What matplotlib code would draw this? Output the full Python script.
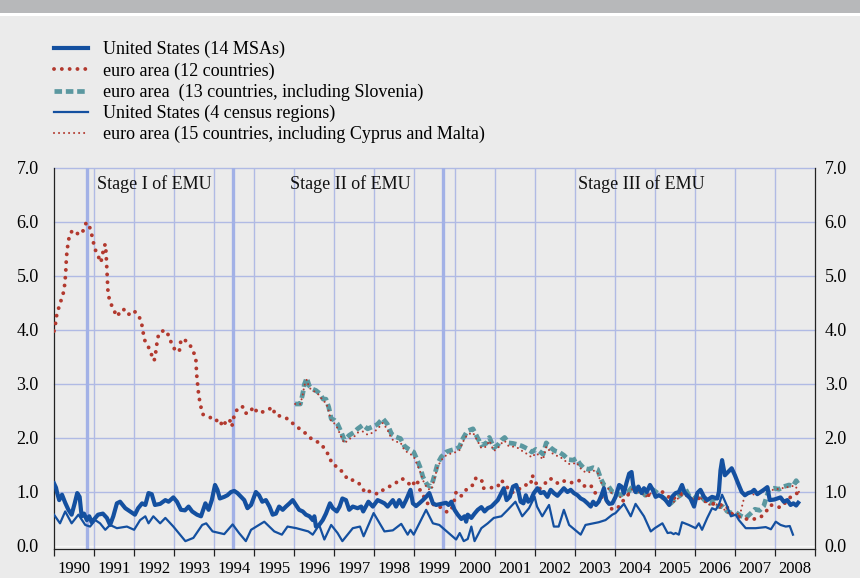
import matplotlib
matplotlib.use("Agg")
import matplotlib.pyplot as plt
from matplotlib.patches import Rectangle

plt.rcParams['font.family'] = ['Liberation Serif', 'DejaVu Serif']

# --- data ----------------------------------------------------------------
us14 = [(1990.00,1.16),(1990.05,1.08),(1990.08,0.98),(1990.13,0.85),(1990.20,0.95),(1990.28,0.80),(1990.36,0.67),
        (1990.44,0.58),(1990.52,0.80),(1990.58,0.98),(1990.64,0.91),(1990.69,0.55),(1990.75,0.60),(1990.82,0.48),
        (1990.88,0.55),(1990.94,0.44),(1991.03,0.52),(1991.10,0.58),(1991.22,0.60),(1991.32,0.52),(1991.40,0.39),
        (1991.48,0.55),(1991.57,0.79),(1991.65,0.82),(1991.78,0.70),(1991.90,0.64),(1992.02,0.58),(1992.10,0.70),
        (1992.20,0.79),(1992.28,0.76),(1992.36,0.98),(1992.44,0.96),(1992.52,0.76),(1992.65,0.78),(1992.78,0.85),
        (1992.86,0.82),(1992.98,0.90),(1993.07,0.82),(1993.17,0.67),(1993.27,0.66),(1993.36,0.73),(1993.45,0.64),
        (1993.57,0.58),(1993.67,0.55),(1993.78,0.79),(1993.82,0.73),(1993.86,0.67),(1993.94,0.85),(1994.02,1.13),
        (1994.08,1.04),(1994.14,0.88),(1994.25,0.91),(1994.33,0.94),(1994.42,1.00),(1994.50,1.02),(1994.58,0.98),
        (1994.67,0.91),(1994.75,0.85),(1994.83,0.70),(1994.92,0.76),(1995.04,1.00),(1995.12,0.94),(1995.20,0.82),
        (1995.29,0.85),(1995.38,0.73),(1995.46,0.58),(1995.54,0.60),(1995.62,0.73),(1995.71,0.67),(1995.79,0.73),
        (1995.88,0.79),(1995.96,0.85),(1996.04,0.76),(1996.12,0.67),(1996.21,0.64),(1996.29,0.58),(1996.38,0.55),
        (1996.46,0.48),(1996.50,0.55),(1996.54,0.36),(1996.62,0.39),(1996.71,0.48),(1996.79,0.60),(1996.89,0.79),
        (1996.96,0.70),(1997.06,0.64),(1997.13,0.73),(1997.20,0.88),(1997.29,0.85),(1997.37,0.67),(1997.46,0.73),
        (1997.58,0.70),(1997.67,0.73),(1997.72,0.64),(1997.85,0.82),(1997.96,0.73),(1998.08,0.85),(1998.17,0.82),
        (1998.25,0.79),(1998.33,0.73),(1998.46,0.85),(1998.54,0.73),(1998.62,0.85),(1998.71,0.73),(1998.79,0.85),
        (1998.90,1.04),(1998.96,0.79),(1999.04,0.74),(1999.12,0.79),(1999.21,0.85),(1999.29,0.91),(1999.37,0.98),
        (1999.46,0.79),(1999.54,0.76),(1999.67,0.78),(1999.79,0.80),(1999.85,0.76),(1999.92,0.82),(2000.00,0.67),
        (2000.08,0.58),(2000.17,0.50),(2000.25,0.55),(2000.29,0.45),(2000.33,0.58),(2000.42,0.52),(2000.50,0.60),
        (2000.58,0.67),(2000.67,0.72),(2000.75,0.64),(2000.83,0.70),(2000.92,0.73),(2001.00,0.79),(2001.08,0.85),
        (2001.17,0.98),(2001.23,1.07),(2001.30,0.85),(2001.38,0.91),(2001.46,1.10),(2001.54,1.13),(2001.60,1.00),
        (2001.65,0.82),(2001.72,0.79),(2001.78,0.94),(2001.84,0.82),(2001.90,0.85),(2001.98,0.98),(2002.07,1.07),
        (2002.15,0.98),(2002.23,1.00),(2002.32,0.91),(2002.40,1.04),(2002.48,0.98),(2002.57,0.93),(2002.65,1.00),
        (2002.73,1.07),(2002.82,1.00),(2002.90,1.04),(2002.98,0.98),(2003.07,0.94),(2003.15,0.88),(2003.23,0.85),
        (2003.32,0.79),(2003.40,0.73),(2003.46,0.82),(2003.53,0.76),(2003.60,0.82),(2003.67,0.94),(2003.73,1.07),
        (2003.79,0.85),(2003.86,0.78),(2003.94,0.79),(2004.02,0.91),(2004.11,1.13),(2004.17,1.10),(2004.23,0.98),
        (2004.29,1.16),(2004.36,1.34),(2004.42,1.37),(2004.46,1.13),(2004.52,1.00),(2004.59,1.10),(2004.67,0.98),
        (2004.73,1.07),(2004.80,1.00),(2004.88,1.13),(2004.95,1.04),(2005.02,0.91),(2005.10,0.94),(2005.19,0.91),
        (2005.27,0.85),(2005.36,0.76),(2005.43,0.91),(2005.52,0.98),(2005.60,1.00),(2005.68,1.13),(2005.74,1.00),
        (2005.81,0.94),(2005.89,0.88),(2005.98,0.73),(2006.06,0.98),(2006.14,1.04),(2006.23,0.91),(2006.31,0.85),
        (2006.43,0.91),(2006.56,0.88),(2006.60,1.00),(2006.64,1.40),(2006.68,1.59),(2006.75,1.31),(2006.83,1.37),
        (2006.92,1.44),(2007.00,1.31),(2007.08,1.16),(2007.17,1.00),(2007.25,0.94),(2007.33,0.98),(2007.42,1.00),
        (2007.48,1.04),(2007.56,0.96),(2007.64,1.00),(2007.72,1.04),(2007.81,1.09),(2007.87,0.85),(2007.98,0.86),
        (2008.06,0.88),(2008.14,0.90),(2008.22,0.82),(2008.31,0.85),(2008.39,0.76),(2008.46,0.79),(2008.53,0.75),
        (2008.58,0.80)]

us4 = [(1990.00,0.58),(1990.15,0.42),(1990.28,0.64),(1990.44,0.42),(1990.61,0.58),(1990.78,0.39),(1990.90,0.36),
       (1991.03,0.48),(1991.15,0.42),(1991.28,0.30),(1991.40,0.39),(1991.57,0.33),(1991.82,0.36),(1992.00,0.30),
       (1992.15,0.48),(1992.28,0.55),(1992.36,0.42),(1992.48,0.55),(1992.65,0.42),(1992.78,0.52),(1992.98,0.36),
       (1993.28,0.09),(1993.48,0.15),(1993.70,0.39),(1993.80,0.42),(1993.96,0.27),(1994.25,0.22),(1994.46,0.40),
       (1994.62,0.24),(1994.79,0.09),(1994.92,0.30),(1995.25,0.45),(1995.50,0.27),(1995.69,0.21),(1995.83,0.36),
       (1996.05,0.33),(1996.20,0.30),(1996.35,0.27),(1996.46,0.21),(1996.62,0.39),(1996.75,0.12),(1996.92,0.39),
       (1997.08,0.24),(1997.20,0.09),(1997.46,0.33),(1997.64,0.36),(1997.73,0.18),(1997.98,0.61),(1998.25,0.27),
       (1998.46,0.29),(1998.67,0.41),(1998.83,0.21),(1998.90,0.30),(1998.98,0.21),(1999.29,0.67),(1999.46,0.42),
       (1999.62,0.39),(2000.04,0.12),(2000.13,0.24),(2000.23,0.09),(2000.33,0.13),(2000.42,0.36),(2000.50,0.09),
       (2000.67,0.33),(2000.83,0.42),(2000.98,0.52),(2001.17,0.55),(2001.33,0.67),(2001.52,0.82),(2001.69,0.55),
       (2001.86,0.70),(2002.00,0.91),(2002.06,0.73),(2002.19,0.55),(2002.36,0.76),(2002.48,0.36),(2002.60,0.36),
       (2002.73,0.67),(2002.86,0.39),(2003.15,0.21),(2003.27,0.39),(2003.60,0.44),(2003.77,0.48),(2003.94,0.58),
       (2004.02,0.61),(2004.23,0.78),(2004.40,0.55),(2004.52,0.78),(2004.73,0.55),(2004.90,0.27),(2005.00,0.33),
       (2005.19,0.42),(2005.32,0.24),(2005.40,0.25),(2005.47,0.22),(2005.52,0.24),(2005.60,0.21),(2005.68,0.44),
       (2005.85,0.39),(2006.02,0.33),(2006.10,0.42),(2006.18,0.30),(2006.31,0.52),(2006.43,0.70),(2006.52,0.67),
       (2006.60,0.76),(2006.68,0.95),(2006.81,0.73),(2006.90,0.55),(2007.02,0.58),(2007.10,0.48),(2007.27,0.33),
       (2007.52,0.33),(2007.77,0.35),(2007.90,0.31),(2008.02,0.45),(2008.14,0.39),(2008.27,0.36),(2008.37,0.37),
       (2008.45,0.21)]

ea12 = [(1990.00,3.98),(1990.04,4.13),(1990.07,4.29),(1990.13,4.44),(1990.19,4.58),(1990.25,4.73),(1990.27,4.87),
        (1990.29,5.03),(1990.30,5.18),(1990.31,5.34),(1990.33,5.49),(1990.36,5.65),(1990.40,5.79),(1990.48,5.85),
        (1990.63,5.76),(1990.73,5.84),(1990.80,5.98),(1990.86,5.98),(1990.92,5.83),(1990.97,5.68),(1991.01,5.52),
        (1991.09,5.39),(1991.17,5.25),(1991.21,5.40),(1991.25,5.54),(1991.28,5.59),(1991.30,5.43),(1991.31,5.28),
        (1991.32,5.13),(1991.33,4.97),(1991.34,4.82),(1991.35,4.67),(1991.40,4.52),(1991.48,4.39),(1991.57,4.25),
        (1991.65,4.33),(1991.73,4.39),(1991.85,4.28),(1991.98,4.36),(1992.10,4.29),(1992.18,4.15),(1992.22,3.99),
        (1992.25,3.83),(1992.35,3.70),(1992.42,3.57),(1992.50,3.43),(1992.53,3.54),(1992.56,3.69),(1992.58,3.83),
        (1992.63,3.95),(1992.77,4.00),(1992.88,3.88),(1992.94,3.73),(1993.05,3.60),(1993.13,3.61),(1993.16,3.77),
        (1993.20,3.84),(1993.36,3.77),(1993.46,3.63),(1993.54,3.49),(1993.55,3.34),(1993.56,3.19),(1993.58,3.03),
        (1993.60,2.88),(1993.63,2.72),(1993.67,2.57),(1993.71,2.44),(1993.90,2.38),(1994.02,2.31),(1994.13,2.35),
        (1994.21,2.21),(1994.29,2.30),(1994.38,2.35),(1994.44,2.21),(1994.48,2.36),(1994.53,2.49),(1994.64,2.57),
        (1994.70,2.59),(1994.77,2.46),(1994.88,2.46),(1994.98,2.58),(1995.08,2.47),(1995.16,2.47),(1995.31,2.51),
        (1995.46,2.57),(1995.52,2.43),(1995.68,2.40),(1995.85,2.35),(1995.99,2.25),(1996.15,2.16),(1996.31,2.07),
        (1996.46,1.96),(1996.64,1.91),(1996.77,1.79),(1996.88,1.65),(1996.94,1.52),(1997.11,1.45),(1997.23,1.34),
        (1997.35,1.22),(1997.48,1.22),(1997.60,1.17),(1997.68,1.10),(1997.77,0.98),(1997.90,1.02),(1998.08,0.96),
        (1998.22,1.04),(1998.37,1.10),(1998.52,1.16),(1998.68,1.25),(1998.79,1.21),(1998.93,1.10),(1999.04,1.23),
        (1999.10,1.15),(1999.15,1.00),(1999.27,0.88),(1999.36,0.74),(1999.52,0.78),(1999.68,0.70),(1999.83,0.62),
        (1999.96,0.73),(2000.04,1.00),(2000.11,0.93),(2000.18,0.93),(2000.32,1.07),(2000.46,1.13),(2000.54,1.27),
        (2000.71,1.19),(2000.73,1.07),(2000.92,1.08),(2001.07,1.09),(2001.17,1.22),(2001.42,0.99),(2001.57,1.02),
        (2001.69,1.11),(2001.78,1.13),(2001.90,1.13),(2001.94,1.31),(2002.03,1.17),(2002.11,1.05),(2002.23,1.13),
        (2002.36,1.25),(2002.48,1.23),(2002.59,1.15),(2002.76,1.21),(2002.94,1.17),(2003.11,1.21),(2003.23,1.11),
        (2003.40,1.13),(2003.48,1.00),(2003.63,0.93),(2003.79,0.85),(2003.93,0.68),(2004.07,0.70),(2004.19,0.82),
        (2004.32,0.94),(2004.44,1.02),(2004.61,1.04),(2004.78,0.98),(2004.90,0.91),(2005.02,0.93),(2005.19,1.00),
        (2005.32,0.93),(2005.42,0.85),(2005.56,0.93),(2005.73,1.00),(2005.89,0.85),(2006.03,0.91),(2006.18,0.85),
        (2006.31,0.82),(2006.45,0.78),(2006.60,0.76),(2006.77,0.76),(2006.89,0.61),(2007.06,0.55),(2007.27,0.50),
        (2007.48,0.50),(2007.64,0.53),(2007.78,0.64),(2007.89,0.76),(2008.02,0.74),(2008.14,0.71),(2008.28,0.82),
        (2008.42,0.93),(2008.56,0.98)]

ea13 = [(1996.02,2.63),(1996.15,2.63),(1996.21,2.82),(1996.25,2.99),(1996.31,3.11),(1996.37,2.97),(1996.44,2.91),
        (1996.54,2.88),(1996.64,2.82),(1996.72,2.72),(1996.79,2.72),(1996.86,2.57),(1996.92,2.36),(1997.00,2.33),
        (1997.08,2.26),(1997.17,2.11),(1997.25,1.96),(1997.37,2.05),(1997.50,2.11),(1997.58,2.17),(1997.71,2.24),
        (1997.83,2.17),(1997.96,2.21),(1998.07,2.25),(1998.21,2.36),(1998.32,2.26),(1998.43,2.07),(1998.54,2.02),
        (1998.65,1.99),(1998.75,1.85),(1998.86,1.79),(1998.98,1.74),(1999.07,1.59),(1999.15,1.44),(1999.21,1.28),
        (1999.32,1.13),(1999.42,1.10),(1999.50,1.31),(1999.58,1.53),(1999.67,1.65),(1999.79,1.74),(1999.90,1.77),
        (2000.04,1.80),(2000.12,1.83),(2000.21,1.99),(2000.32,2.13),(2000.46,2.17),(2000.57,2.01),(2000.67,1.87),
        (2000.79,1.90),(2000.87,2.01),(2000.98,1.82),(2001.08,1.87),(2001.17,1.96),(2001.25,2.01),(2001.35,1.91),
        (2001.46,1.90),(2001.57,1.88),(2001.69,1.85),(2001.82,1.80),(2001.93,1.74),(2002.03,1.79),(2002.11,1.76),
        (2002.21,1.70),(2002.29,1.91),(2002.40,1.82),(2002.51,1.76),(2002.61,1.74),(2002.73,1.68),(2002.84,1.60),
        (2002.96,1.59),(2003.04,1.62),(2003.13,1.52),(2003.23,1.44),(2003.34,1.42),(2003.46,1.45),(2003.57,1.42),
        (2003.65,1.25),(2003.73,1.13),(2003.84,1.11),(2003.94,1.00),(2004.02,0.99),(2004.15,0.94),(2004.23,0.98),
        (2004.34,1.00),(2004.44,1.10),(2004.54,1.00),(2004.65,1.04),(2004.76,0.94),(2004.86,0.98),(2004.96,1.04),
        (2005.07,0.98),(2005.18,0.91),(2005.29,0.85),(2005.40,0.79),(2005.52,0.88),(2005.64,0.94),(2005.77,1.05),
        (2005.87,0.91),(2005.98,0.87),(2006.08,0.96),(2006.18,0.90),(2006.28,0.82),(2006.39,0.79),(2006.50,0.85),
        (2006.60,0.73),(2006.70,0.73),(2006.81,0.64),(2006.92,0.61),(2007.03,0.62),(2007.14,0.56),(2007.27,0.52),
        (2007.39,0.60),(2007.50,0.68),(2007.62,0.66),(2007.72,0.74),(2007.85,1.05),(2007.98,1.07),(2008.10,1.05),
        (2008.22,1.10),(2008.35,1.13),(2008.45,1.11),(2008.53,1.21),(2008.60,1.13)]

ea15 = [(1996.02,2.63),(1996.15,2.63),(1996.21,2.80),(1996.25,2.97),(1996.31,3.08),(1996.37,2.94),(1996.44,2.88),
        (1996.54,2.85),(1996.64,2.78),(1996.72,2.68),(1996.79,2.66),(1996.86,2.50),(1996.92,2.30),(1997.00,2.27),
        (1997.08,2.18),(1997.17,2.02),(1997.25,1.90),(1997.37,1.98),(1997.50,2.03),(1997.58,2.10),(1997.71,2.12),
        (1997.83,2.06),(1997.96,2.10),(1998.07,2.16),(1998.21,2.28),(1998.32,2.16),(1998.43,1.98),(1998.54,1.93),
        (1998.65,1.92),(1998.75,1.77),(1998.86,1.72),(1998.98,1.66),(1999.07,1.50),(1999.15,1.36),(1999.21,1.22),
        (1999.32,1.06),(1999.42,1.04),(1999.50,1.25),(1999.58,1.47),(1999.67,1.59),(1999.79,1.68),(1999.90,1.71),
        (2000.04,1.74),(2000.12,1.77),(2000.21,1.93),(2000.32,2.06),(2000.46,2.10),(2000.57,1.95),(2000.67,1.81),
        (2000.79,1.84),(2000.87,1.95),(2000.98,1.76),(2001.08,1.81),(2001.17,1.90),(2001.25,1.95),(2001.35,1.85),
        (2001.46,1.84),(2001.57,1.82),(2001.69,1.76),(2001.82,1.70),(2001.93,1.64),(2002.03,1.72),(2002.11,1.68),
        (2002.21,1.60),(2002.29,1.84),(2002.40,1.74),(2002.51,1.68),(2002.61,1.66),(2002.73,1.60),(2002.84,1.52),
        (2002.96,1.52),(2003.04,1.55),(2003.13,1.45),(2003.23,1.38),(2003.34,1.36),(2003.46,1.40),(2003.57,1.36),
        (2003.65,1.19),(2003.73,1.08),(2003.84,1.06),(2003.94,0.96),(2004.02,0.94),(2004.15,0.90),(2004.23,0.95),
        (2004.34,0.97),(2004.44,1.06),(2004.54,0.97),(2004.65,1.01),(2004.76,0.91),(2004.86,0.95),(2004.96,1.01),
        (2005.07,0.95),(2005.18,0.88),(2005.29,0.82),(2005.40,0.76),(2005.52,0.85),(2005.64,0.91),(2005.77,1.02),
        (2005.87,0.88),(2005.98,0.84),(2006.08,0.93),(2006.18,0.87),(2006.28,0.79),(2006.39,0.76),(2006.50,0.82),
        (2006.60,0.71),(2006.70,0.70),(2006.81,0.62),(2006.92,0.60),(2007.03,0.58),(2007.14,0.62),(2007.20,0.80),
        (2007.25,0.95),(2007.35,0.97),(2007.50,0.95),(2007.65,1.00),(2007.80,1.02),(2007.95,1.04),(2008.10,1.06),
        (2008.25,1.08),(2008.38,1.10),(2008.50,1.12),(2008.56,1.05),(2008.60,1.00)]

years = list(range(1990, 2009))
year_labels = [str(y) for y in years]
y_ticks = [0, 1, 2, 3, 4, 5, 6, 7]
stages = [(1990.82, 1991.07, "Stage I of EMU"),
          (1994.48, 1995.89, "Stage II of EMU"),
          (1999.72, 2003.08, "Stage III of EMU")]

labels = ["United States (14 MSAs)",
          "euro area (12 countries)",
          "euro area  (13 countries, including Slovenia)",
          "United States (4 census regions)",
          "euro area (15 countries, including Cyprus and Malta)"]

# --- styling ---
BG = "#ebebeb"
GRID = "#b0bae4"
STAGE = "#a2b1e6"
BLUE = "#1450a0"
RED = "#b2392e"
TEAL = "#5b98a0"

W, H = 860, 578
fig = plt.figure(figsize=(W / 100, H / 100), dpi=100, facecolor=BG)
fig.patches.append(Rectangle((0, 1 - 13 / H), 1, 13 / H, transform=fig.transFigure,
                             facecolor="#b7b8ba", edgecolor="none"))
fig.patches.append(Rectangle((0, 1 - 15.5 / H), 1, 2.5 / H, transform=fig.transFigure,
                             facecolor="white", edgecolor="none"))

left, right, top = 54, 815, 168
ymin, ymax = -0.05, 7.0
ppu = 54.0
bottom = top + (ymax - ymin) * ppu
ax = fig.add_axes([left / W, 1 - bottom / H, (right - left) / W, (bottom - top) / H])
ax.set_facecolor(BG)
ax.set_xlim(1990, 2009)
ax.set_ylim(ymin, ymax)

# grid
for y in y_ticks:
    ax.axhline(y, color=("#f7f7f7" if y == 0 else GRID), lw=1.0, zorder=1, clip_on=False)
for x in years[1:]:
    ax.axvline(x, color=GRID, lw=1.0, zorder=1)
for xs, xt, txt in stages:
    ax.axvline(xs, color=STAGE, lw=2.4, zorder=1)
    ax.text(xt, 6.7, txt, fontsize=13, va="center", ha="left", color="#111111", zorder=2)

t, v = zip(*us14)
h1, = ax.plot(t, v, color=BLUE, lw=3.0, solid_joinstyle="round", zorder=5)
t, v = zip(*ea12)
h2, = ax.plot(t, v, color=RED, lw=2.8, ls=(0, (0.01, 2.0)), dash_capstyle="round", zorder=4)
t, v = zip(*ea13)
h3, = ax.plot(t, v, color=TEAL, lw=3.4, ls=(0, (1.6, 0.8)), zorder=3)
t, v = zip(*us4)
h4, = ax.plot(t, v, color=BLUE, lw=1.6, zorder=5)
t, v = zip(*ea15)
h5, = ax.plot(t, v, color=RED, lw=1.5, ls=(0, (0.01, 2.4)), dash_capstyle="round", zorder=4)

# axes
ax.spines["top"].set_visible(False)
for s in ["left", "right", "bottom"]:
    ax.spines[s].set_color("#222222")
    ax.spines[s].set_linewidth(0.9)

ax.set_yticks(y_ticks)
ax.set_yticklabels([f"{y:.1f}" for y in y_ticks])
ax.tick_params(axis="y", length=0, labelsize=13, labelleft=True, labelright=False, pad=11)

# right-hand labels on a twin axis (different padding)
ax2 = ax.twinx()
ax2.set_ylim(ymin, ymax)
ax2.set_yticks(y_ticks)
ax2.set_yticklabels([f"{y:.1f}" for y in y_ticks])
ax2.tick_params(axis="y", length=0, labelsize=13, pad=7)
for s in ax2.spines.values():
    s.set_visible(False)

ax.set_xticks(years + [2009])
ax.set_xticklabels([])
ax.set_xticks([y + 0.5 for y in years], minor=True)
ax.set_xticklabels(year_labels, minor=True)
ax.tick_params(axis="x", which="major", length=5, width=0.9, direction="out", color="#222222")
ax.tick_params(axis="x", which="minor", length=0, labelsize=12, pad=9)

ax.legend([h1, h2, h3, h4, h5], labels, loc="upper left",
          bbox_to_anchor=(54 / W, 1 - 41 / H), bbox_transform=fig.transFigure,
          frameon=False, fontsize=13, handlelength=1.9, handletextpad=0.83,
          labelspacing=0.22, borderpad=0, borderaxespad=0)

fig.savefig("out.png", dpi=100, facecolor=BG)
